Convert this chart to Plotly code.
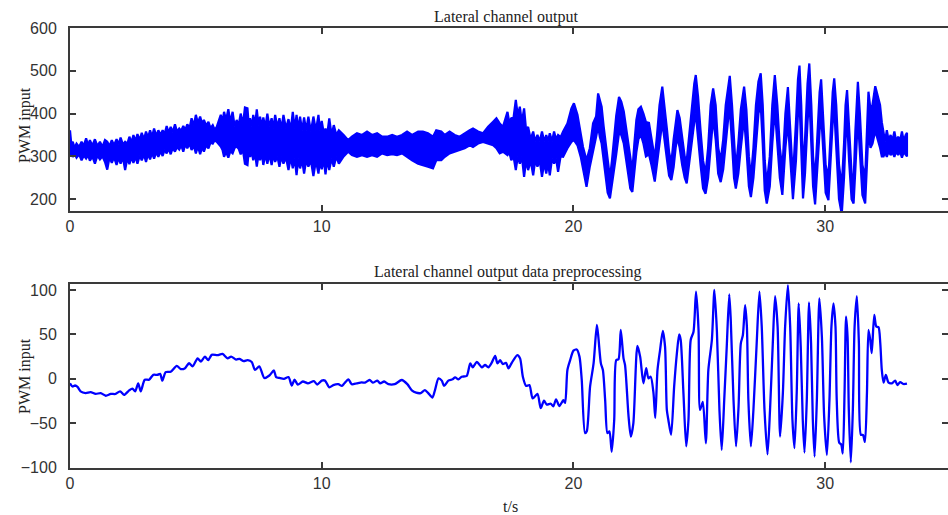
import plotly.graph_objects as go

# ---------------- Top panel: raw lateral channel output (min / max envelope)
top_t = [0.00,0.05,0.11,0.18,0.26,0.36,0.46,0.55,0.64,0.72,0.79,0.89,0.99,1.09,1.19,1.29,1.39,1.48,1.57,1.66,
         1.75,1.85,1.93,2.01,2.10,2.19,2.28,2.36,2.44,2.52,2.60,2.68,2.77,2.85,2.94,3.02,3.10,3.18,3.26,3.34,
         3.43,3.51,3.60,3.68,3.76,3.84,3.92,4.00,4.08,4.17,4.25,4.34,4.42,4.50,4.58,4.66,4.75,4.83,4.92,5.00,
         5.08,5.17,5.25,5.32,5.41,5.50,5.58,5.67,5.75,5.83,
         5.99,6.06,6.12,6.20,6.29,6.37,6.46,6.54,6.62,6.70,6.78,6.87,6.95,7.05,7.10,7.15,7.22,7.28,7.35,7.42,
         7.49,7.55,7.62,7.68,7.76,7.84,7.92,8.01,8.08,8.15,8.24,8.32,8.40,8.48,8.58,8.68,8.77,8.85,8.93,9.00,
         9.07,9.14,9.22,9.30,9.38,9.47,9.57,9.67,9.77,9.87,9.93,10.00,10.08,10.15,10.22,10.30,10.39,10.48,10.58,10.68,
         10.87,11.05,11.20,11.40,11.60,11.80,12.00,12.20,12.40,12.60,12.80,12.99,13.19,13.39,13.59,13.83,14.02,14.22,14.42,14.55,
         14.75,14.89,15.08,15.28,15.48,15.68,15.88,16.01,16.21,16.41,16.61,16.81,16.94,17.07,17.20,
         17.38,17.45,17.53,17.62,17.71,17.79,17.87,17.95,18.04,18.12,18.20,18.30,18.40,18.48,18.57,18.66,18.75,18.84,18.92,18.99,
         19.06,19.15,19.23,19.31,19.39,19.49,19.59,
         19.76,19.92,20.02,20.16,20.29,20.38,20.52,20.65,20.78,20.90,
         20.98,21.05,21.12,21.20,21.28,21.36,21.45,21.53,21.62,21.70,21.81,21.90,22.00,22.08,22.17,22.26,22.34,22.42,22.50,22.58,
         22.68,22.78,22.88,23.00,23.10,23.23,23.32,23.42,23.53,23.62,23.72,23.80,23.89,23.98,24.06,24.13,24.22,24.32,24.42,24.50,
         24.60,24.70,24.80,24.86,24.95,25.05,25.15,25.25,25.35,25.45,25.55,25.65,25.75,25.85,25.95,26.05,26.15,26.21,26.30,26.38,
         26.45,26.55,26.65,26.78,26.87,26.97,27.05,27.15,27.25,27.35,27.44,27.52,27.60,27.68,27.80,27.90,28.00,28.10,28.20,28.30,
         28.42,28.52,28.62,28.72,28.84,28.92,28.98,29.05,29.12,29.20,29.30,29.37,29.45,29.52,29.60,29.70,29.78,29.84,29.92,30.02,
         30.13,30.22,30.30,30.36,30.44,30.55,30.66,30.75,30.81,30.87,30.95,31.05,31.13,31.20,31.30,31.38,31.48,31.59,31.66,31.72,
         31.80,31.88,31.99,32.08,32.18,32.25,
         32.32,32.38,32.45,32.52,32.60,32.67,32.75,32.82,32.90,32.97,33.05,33.12,33.20,33.25]

top_hi = [361,330,334,320,330,322,334,325,342,326,338,325,340,324,334,322,338,334,324,338,
          326,340,328,344,328,334,330,346,332,350,336,352,338,355,340,358,344,361,346,365,
          348,361,350,361,352,371,355,369,356,375,358,365,360,371,362,375,366,389,372,397,
          378,393,376,385,372,381,366,373,362,369,
          397,380,404,385,410,380,404,370,385,372,400,375,414,412,375,389,370,397,372,410,
          372,393,368,391,368,400,370,389,365,397,368,389,365,397,365,387,362,404,365,397,
          362,393,360,391,360,393,358,393,360,397,360,383,355,365,352,389,350,373,350,361,
          350,338,346,354,350,358,350,354,346,346,350,346,350,358,350,358,358,354,346,361,
          358,350,358,350,346,354,361,365,358,354,369,381,389,377,369,
          404,380,389,390,432,395,416,380,412,360,369,340,358,335,350,335,358,335,350,335,
          354,335,358,340,350,345,358,
          377,412,424,397,346,322,291,319,377,393,
          447,430,416,370,330,290,250,290,340,395,439,428,405,370,330,290,265,330,385,410,
          416,400,380,378,340,295,350,420,463,420,360,310,285,340,385,408,390,340,300,290,
          350,420,470,490,440,360,290,260,320,420,459,420,320,290,340,420,470,488,420,320,
          270,330,410,463,410,300,250,320,420,475,494,420,290,235,300,420,490,420,320,270,
          400,462,360,250,380,480,512,420,270,340,470,517,420,300,245,360,450,480,400,280,
          250,360,450,482,420,280,230,330,420,455,380,260,240,360,474,400,280,250,360,451,
          410,420,464,440,420,380,
          350,335,361,338,350,336,358,336,346,334,358,336,350,355]

top_lo = [303,308,299,306,297,305,291,302,295,303,290,300,283,302,293,300,287,269,298,285,
          298,280,297,283,298,268,296,282,298,285,300,283,302,291,304,287,306,293,308,295,
          310,299,312,301,316,307,318,305,320,311,322,316,326,311,328,319,330,315,325,307,
          324,305,322,311,326,319,332,330,338,334,
          323,315,299,310,297,312,307,320,323,318,305,315,283,280,312,299,310,291,308,276,
          305,291,308,280,305,283,305,280,305,287,300,276,300,283,298,268,298,272,295,256,
          295,272,292,260,290,276,290,254,290,260,290,270,292,258,292,268,295,276,300,283,
          300,311,303,299,303,299,303,299,307,303,305,303,307,299,291,283,280,276,272,291,
          291,299,307,311,315,319,326,322,330,334,330,326,319,307,311,
          303,310,291,300,268,300,283,300,252,290,268,290,256,290,276,290,252,285,260,285,
          256,295,283,295,264,300,299,
          319,334,338,326,299,268,229,276,315,346,
          370,345,330,290,250,215,202,230,270,305,355,350,330,300,262,225,217,260,310,340,
          350,330,300,305,280,241,280,330,380,340,290,255,245,275,320,345,320,280,250,237,
          280,330,380,400,350,280,225,213,250,320,390,340,260,240,270,320,390,410,330,250,
          225,260,320,390,320,230,205,250,320,400,420,330,220,190,230,330,410,330,250,210,
          320,380,280,200,290,400,430,320,202,260,380,440,320,230,188,270,360,400,320,215,
          198,280,380,410,330,200,165,250,340,390,290,200,190,270,390,300,210,190,270,360,
          320,330,360,340,320,300,
          300,310,299,312,303,310,299,312,303,312,297,310,303,300]

# ---------------- Bottom panel: preprocessed output
bot_t = [0.0,0.1,0.2,0.3,0.42,0.62,0.82,1.02,1.22,1.42,1.62,1.81,1.99,2.15,2.35,2.48,2.59,2.71,2.81,2.97,
         3.14,3.31,3.47,3.58,3.67,3.8,4.0,4.24,4.4,4.57,4.73,4.87,5.07,5.2,5.36,5.49,5.63,5.86,6.06,6.26,
         6.4,6.6,6.73,6.9,7.06,7.22,7.35,7.52,7.72,7.92,8.1,8.19,8.32,8.5,8.68,8.81,8.92,9.05,9.25,9.45,
         9.69,9.82,
         10.0,10.13,10.3,10.46,10.66,10.8,10.9,11.06,11.19,11.39,11.59,11.72,11.9,12.03,12.21,12.32,12.48,12.65,12.9,13.18,
         13.4,13.58,13.75,13.93,14.1,14.23,14.4,14.5,14.64,14.77,14.86,15.03,15.2,15.3,15.43,15.56,15.76,15.9,16.0,16.16,
         16.36,16.49,16.62,16.75,16.89,16.98,17.09,17.19,17.32,17.42,17.55,17.77,17.88,17.99,18.12,18.25,18.38,18.57,18.7,18.83,
         18.94,19.1,19.2,19.31,19.44,19.6,19.67,
         19.76,19.87,20.0,20.13,20.24,20.33,20.46,20.53,20.66,20.8,20.93,20.99,21.09,21.17,21.26,21.35,21.43,21.52,21.62,21.7,
         21.79,21.88,21.99,22.05,22.19,22.28,22.38,22.54,22.65,22.78,22.89,22.98,23.07,23.18,23.25,23.34,23.44,23.55,23.64,23.71,
         23.77,23.88,24.0,24.11,24.2,24.26,24.37,24.48,24.57,24.66,24.77,24.87,24.97,25.03,25.14,25.26,25.36,25.5,25.6,25.7,
         25.8,25.89,25.99,26.09,26.19,26.25,26.36,26.46,26.56,26.65,26.73,26.82,26.89,26.95,27.05,27.15,27.28,27.39,27.48,27.59,
         27.71,27.81,27.92,28.01,28.11,28.21,28.32,28.41,28.52,28.61,28.7,28.78,28.87,28.95,29.03,29.11,29.18,29.27,29.36,29.44,
         29.51,29.58,29.67,29.77,29.87,29.96,30.07,30.17,30.25,30.33,30.41,30.46,30.56,30.64,30.7,30.77,30.83,30.89,30.94,31.02,
         31.1,31.17,31.26,31.34,31.42,31.5,31.58,31.66,31.72,31.79,31.85,31.95,32.03,32.12,32.19,32.25,32.32,32.41,32.52,32.65,
         32.78,32.87,32.98,33.11,33.25]

bot_v = [-5,-8.6,-7.5,-9,-14,-16,-15,-17,-16,-19,-17,-17,-14,-18,-13,-11,-14,-5,-14,-1,
         -1,4.5,4.5,5.6,-2,7.5,8,14.6,11,12,17.6,14,23,19.5,25,21,27,26.6,28,23,
         25,21.7,22.5,20,21,19,10,14,1,3.8,9.4,2,1,0,2,-7.5,-1,-6.4,-3,-5,
         -2.6,-6.4,
         -2,-2,-9.5,-7,-6,-8,-5,-0.5,-6,-5,-4,-4.3,-1.3,-4.3,-2,-5,-3,-6,-6,-1.3,
         -6,-13,-15.6,-16,-12.6,-16,-21,-12.6,0.5,-2,-8,-2,-0.5,1.7,-0.5,2.4,3.2,17.4,13,19,
         13,15.6,13,18,25.7,17.4,21,16.7,18,11.8,18,26.8,23,2.4,-8,-7,-22,-17,-33,-24.6,
         -29,-28,-31,-23,-30.6,-24,-27,
         10,21,31.7,33,25,-1.3,-61,-59,-9,17.4,60.6,47,17.4,10,-24,-61,-59,-82,-46,21,
         22,55,23,15.6,-42.5,-65,-50,37,25,-5,12,0.5,2.4,-16,-44,10,32,54,36,-35,
         -46,-63,-9,29,50,44,-16,-76,-46,44,53,98,55,-35,-26,-72.5,10,44,100,53,
         -35,-80,-24,36,95,66,-24,-76,-31,40,49,83,59,-24,-76,-35,40,98,59,-35,
         -85,-35,40,93,59,-65,-16,59,105.5,59,-46,-78,-16,85,36,-46,-83,-24,86,40,
         -46,-87.6,-24,90.6,47,-42.5,-85.7,-24,59,85,59,-24,-72,-74,-84,-16,70,47,-35,-94,
         -35,59,93,40,-63,-63,-71,-16,55,44,29,72,59,58,40,10,-4.3,4.3,-4.3,-5,
         -2,-7,-3.6,-5.8,-5.4]

x_ticks = [0, 10, 20, 30]
top_y_ticks = [200, 300, 400, 500, 600]
bot_y_ticks = [-100, -50, 0, 50, 100]

assert len(top_t) == len(top_hi) == len(top_lo), (len(top_t), len(top_hi), len(top_lo))
assert len(bot_t) == len(bot_v), (len(bot_t), len(bot_v))

BLUE = "#0000ff"
AX = "#3a3a3a"
TICKFONT = dict(family="Liberation Sans, Arial, sans-serif", size=16, color="#333333")
SERIF = "Liberation Serif, Times New Roman, serif"
TXT = dict(family=SERIF, size=16, color="#222222")

fig = go.Figure()
fig.add_trace(go.Scatter(
    x=top_t + top_t[::-1], y=top_hi + top_lo[::-1],
    mode="lines", fill="toself", fillcolor=BLUE,
    line=dict(color=BLUE, width=2.2), xaxis="x", yaxis="y", hoverinfo="skip"))
fig.add_trace(go.Scatter(
    x=bot_t, y=bot_v, mode="lines",
    line=dict(color=BLUE, width=2.3, shape="spline", smoothing=0.7),
    xaxis="x2", yaxis="y2"))

common_x = dict(range=[0, 34.88], tickvals=x_ticks, ticks="inside", ticklen=6, tickwidth=1.5,
                tickcolor=AX, showline=True, linecolor=AX, linewidth=2, mirror="ticks",
                showgrid=False, zeroline=False, tickfont=TICKFONT, ticklabelstandoff=0)
common_y = dict(ticks="inside", ticklen=6, tickwidth=1.5, tickcolor=AX, showline=True,
                linecolor=AX, linewidth=2, mirror="ticks", showgrid=False, zeroline=False,
                tickfont=TICKFONT, ticklabelstandoff=8)


def ann(text, px, py, angle=0):
    return dict(text=text, xref="paper", yref="paper",
                x=(px - 70) / 878, y=1 - py / 515, xanchor="center", yanchor="middle",
                showarrow=False, textangle=angle, font=TXT)


fig.update_layout(
    width=948, height=515,
    margin=dict(l=70, r=0, t=0, b=0, autoexpand=False),
    paper_bgcolor="white", plot_bgcolor="white",
    showlegend=False,
    xaxis=dict(domain=[0, 1], anchor="y", **common_x),
    yaxis=dict(domain=[0.5903, 0.9462], anchor="x", range=[172.5, 600.5],
               tickvals=top_y_ticks, **common_y),
    xaxis2=dict(domain=[0, 1], anchor="y2", **common_x),
    yaxis2=dict(domain=[0.0918, 0.4480], anchor="x2", range=[-100, 106.4],
                tickvals=bot_y_ticks, **common_y),
    annotations=[
        ann("Lateral channel output", 506, 17),
        ann("Lateral channel output data preprocessing", 507, 272),
        ann("t/s", 510, 506),
        ann("PWM input", 25, 125, -90),
        ann("PWM input", 25, 376, -90),
    ],
)

fig.write_html("out.html", config={"displayModeBar": False},
               post_script="document.body.style.margin='0';")
